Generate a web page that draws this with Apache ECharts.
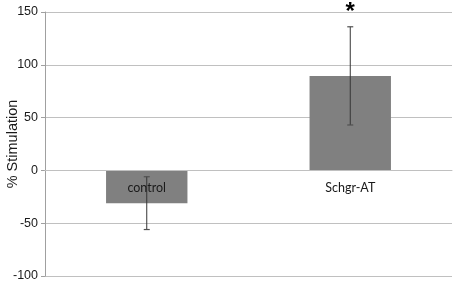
<!DOCTYPE html>
<html><head><meta charset="utf-8">
<script src="https://cdn.jsdelivr.net/npm/echarts@6/dist/echarts.min.js"></script>
<style>html,body{margin:0;padding:0;background:#fff}#c{width:454px;height:283px}</style>
</head><body><div id="c"></div>
<script>
const categories = ['control', 'Schgr-AT'];
const values = [-31, 89.5];
const errLow = [-56, 43];
const errHigh = [-6, 136];
const annotations = ['', '*'];
const yTicks = { min: -100, max: 150, interval: 50 };

const chart = echarts.init(document.getElementById('c'));
chart.setOption({
  animation: false,
  grid: { left: 45, right: 2, top: 12, bottom: 7, containLabel: false, outerBoundsMode: 'none' },
  xAxis: {
    type: 'category', data: categories, position: 'bottom', offset: 0,
    axisLine: { show: true, onZero: true, lineStyle: { color: '#c0c0c0' } },
    axisTick: { show: false },
    axisLabel: { margin: 11, color: '#1a1a1a', fontFamily: 'Lato, Open Sans, sans-serif', fontSize: 12.5 },
    z: 10
  },
  yAxis: {
    type: 'value', min: yTicks.min, max: yTicks.max, interval: yTicks.interval,
    name: '% Stimulation', nameLocation: 'middle', nameGap: 32, nameMoveOverlap: false,
    nameTextStyle: { fontFamily: 'Liberation Sans, Arial', fontSize: 14.5, color: '#1a1a1a', verticalAlign: 'middle' },
    axisLine: { show: true, lineStyle: { color: '#a0a0a0' } },
    axisTick: { show: true, length: 4, lineStyle: { color: '#a0a0a0' } },
    axisLabel: { margin: 7, fontFamily: 'Liberation Sans, Arial', fontSize: 12.5, color: '#1a1a1a' },
    splitLine: { lineStyle: { color: '#c0c0c0' } }
  },
  series: [
    { type: 'bar', data: values, barWidth: '40%', itemStyle: { color: '#808080' }, z: 2 },
    {
      type: 'custom', z: 5,
      data: categories.map((c, i) => [i, errLow[i], errHigh[i]]),
      renderItem: function (params, api) {
        const i = api.value(0);
        const lo = api.coord([i, api.value(1)]);
        const hi = api.coord([i, api.value(2)]);
        const hw = 3;
        const children = [
          { type: 'line', shape: { x1: lo[0], y1: lo[1], x2: hi[0], y2: hi[1] }, style: { stroke: '#353535', lineWidth: 1 } },
          { type: 'line', shape: { x1: lo[0] - hw, y1: lo[1], x2: lo[0] + hw, y2: lo[1] }, style: { stroke: '#505050', lineWidth: 1.2 } },
          { type: 'line', shape: { x1: hi[0] - hw, y1: hi[1], x2: hi[0] + hw, y2: hi[1] }, style: { stroke: '#505050', lineWidth: 1.2 } }
        ];
        const ann = annotations[i];
        if (ann) {
          const top = api.coord([i, yTicks.max]);
          children.push({ type: 'text', style: { text: ann, x: top[0], y: top[1], align: 'center', verticalAlign: 'middle', font: 'bold 24px Liberation Sans, Arial', fill: '#000' } });
        }
        return { type: 'group', children: children };
      }
    }
  ]
});
// place the category axis on the zero line of the value axis
const zeroY = chart.convertToPixel({ yAxisIndex: 0 }, 0);
const bottomY = chart.convertToPixel({ yAxisIndex: 0 }, yTicks.min);
chart.setOption({ xAxis: { offset: zeroY - bottomY } });
</script>
</body></html>
